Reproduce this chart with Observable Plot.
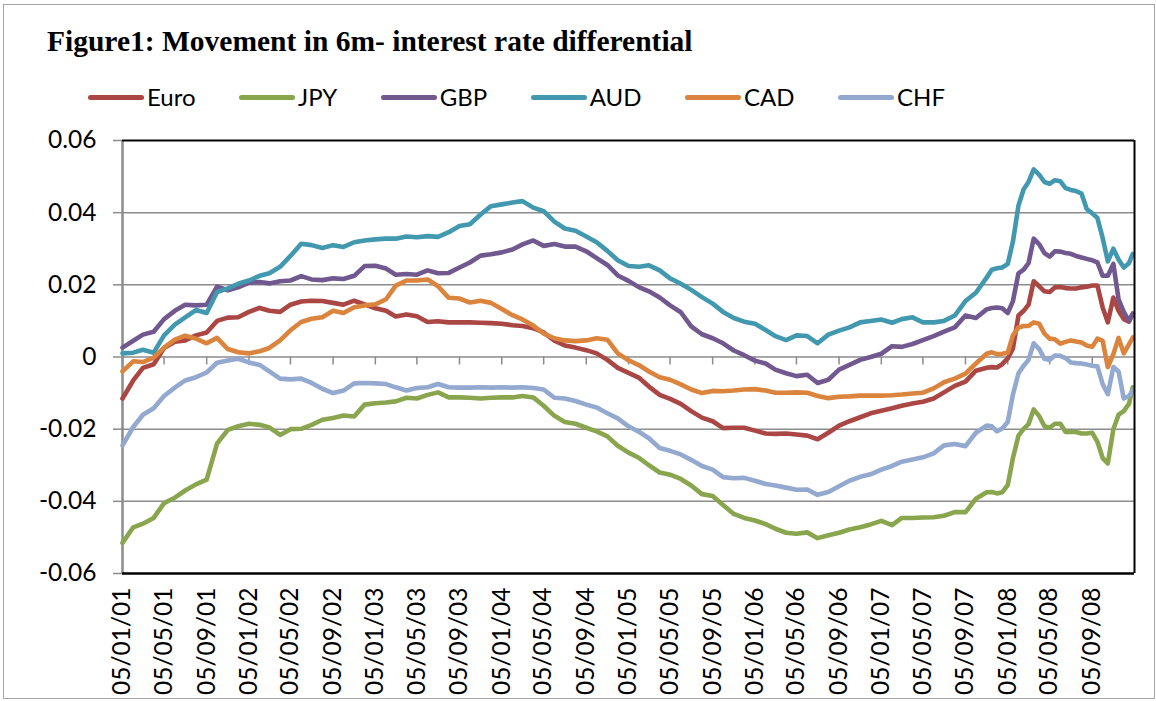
<!DOCTYPE html>
<html><head><meta charset="utf-8">
<script src="https://cdn.jsdelivr.net/npm/d3@7"></script>
<script src="https://cdn.jsdelivr.net/npm/@observablehq/plot@0.6"></script>
<style>
html,body{margin:0;padding:0;background:#fff;}
#wrap{position:relative;width:1156px;height:701px;overflow:hidden;background:#fff;}
#border{position:absolute;left:3px;top:4px;width:1152px;height:695px;box-sizing:border-box;border:1.5px solid #a6a6a6;}
#title{position:absolute;left:47px;top:27px;font-family:"Liberation Serif","Times New Roman",serif;font-weight:bold;font-size:29.5px;line-height:29.5px;white-space:nowrap;color:#000;}
#legend{position:absolute;left:88px;top:85px;display:flex;gap:43.5px;font-family:Lato,sans-serif;font-size:24px;line-height:24px;color:#000;}
.item{display:flex;align-items:center;}
.swatch{width:56px;height:5px;border-radius:3px;margin-right:3px;}
#chart{position:absolute;left:0;top:120px;}
</style>
</head><body>
<div id="wrap">
  <div id="border"></div>
  <div id="title"></div>
  <div id="legend"></div>
  <div id="chart"></div>
</div>
<script>
const titleText = "Figure1: Movement in 6m- interest rate differential";
const seriesNames = ["Euro", "JPY", "GBP", "AUD", "CAD", "CHF"];
const seriesColors = ["#AA4643", "#89A54E", "#71588F", "#4198AF", "#DB843D", "#93A9CF"];
const yTicks = [-0.06, -0.04, -0.02, 0, 0.02, 0.04, 0.06];
const yTickLabels = ["-0.06", "-0.04", "-0.02", "0", "0.02", "0.04", "0.06"];
const xTickLabels = ["05/01/01","05/05/01","05/09/01","05/01/02","05/05/02","05/09/02","05/01/03","05/05/03","05/09/03","05/01/04","05/05/04","05/09/04","05/01/05","05/05/05","05/09/05","05/01/06","05/05/06","05/09/06","05/01/07","05/05/07","05/09/07","05/01/08","05/05/08","05/09/08"];
const xDomain = ["2001-01-05", "2009-01-05"];

const dates = [
"2001-01-05","2001-02-05","2001-03-05","2001-04-05","2001-05-05","2001-06-05","2001-07-05","2001-08-05","2001-09-05","2001-10-05","2001-11-05","2001-12-05",
"2002-01-05","2002-02-05","2002-03-05","2002-04-05","2002-05-05","2002-06-05","2002-07-05","2002-08-05","2002-09-05","2002-10-05","2002-11-05","2002-12-05",
"2003-01-05","2003-02-05","2003-03-05","2003-04-05","2003-05-05","2003-06-05","2003-07-05","2003-08-05","2003-09-05","2003-10-05","2003-11-05","2003-12-05",
"2004-01-05","2004-02-05","2004-03-05","2004-04-05","2004-05-05","2004-06-05","2004-07-05","2004-08-05","2004-09-05","2004-10-05","2004-11-05","2004-12-05",
"2005-01-05","2005-02-05","2005-03-05","2005-04-05","2005-05-05","2005-06-05","2005-07-05","2005-08-05","2005-09-05","2005-10-05","2005-11-05","2005-12-05",
"2006-01-05","2006-02-05","2006-03-05","2006-04-05","2006-05-05","2006-06-05","2006-07-05","2006-08-05","2006-09-05","2006-10-05","2006-11-05","2006-12-05",
"2007-01-05","2007-02-05","2007-03-05","2007-04-05","2007-05-05","2007-06-05","2007-07-05","2007-08-05","2007-09-05","2007-10-05",
"2007-11-05","2007-11-20","2007-12-05","2007-12-20",
"2008-01-05","2008-01-20","2008-02-05","2008-02-20","2008-03-05","2008-03-20","2008-04-05","2008-04-20","2008-05-05","2008-05-20","2008-06-05","2008-06-20",
"2008-07-05","2008-07-20","2008-08-05","2008-08-20","2008-09-05","2008-09-20","2008-10-05","2008-10-20","2008-11-05","2008-11-20","2008-12-05","2008-12-20",
"2008-12-31"
];

const euro = [
-0.0115,-0.0065,-0.0030,-0.0020,0.0025,0.0042,0.0046,0.0060,0.0068,0.0100,0.0109,0.0110,
0.0125,0.0136,0.0128,0.0125,0.0145,0.0154,0.0156,0.0155,0.0150,0.0145,0.0156,0.0146,
0.0135,0.0128,0.0112,0.0118,0.0113,0.0097,0.0099,0.0096,0.0096,0.0096,0.0095,0.0094,
0.0092,0.0088,0.0086,0.0080,0.0068,0.0045,0.0032,0.0026,0.0019,0.0010,-0.0008,-0.0030,
-0.0044,-0.0058,-0.0082,-0.0105,-0.0116,-0.0130,-0.0150,-0.0168,-0.0178,-0.0197,-0.0196,-0.0196,
-0.0204,-0.0212,-0.0213,-0.0212,-0.0215,-0.0218,-0.0228,-0.0210,-0.0190,-0.0178,-0.0167,-0.0156,
-0.0149,-0.0142,-0.0135,-0.0129,-0.0124,-0.0115,-0.0098,-0.0080,-0.0068,-0.0038,
-0.0030,-0.0028,-0.0029,-0.0020,
-0.0004,0.0024,0.0115,0.0128,0.0145,0.0210,0.0196,0.0182,0.0180,0.0193,0.0194,0.0191,
0.0190,0.0190,0.0193,0.0195,0.0198,0.0198,0.0137,0.0096,0.0165,0.0128,0.0105,0.0098,
0.0120
];
const jpy = [
-0.0515,-0.0472,-0.0462,-0.0446,-0.0405,-0.0390,-0.0370,-0.0353,-0.0340,-0.0240,-0.0202,-0.0192,
-0.0185,-0.0188,-0.0195,-0.0216,-0.0200,-0.0199,-0.0188,-0.0174,-0.0169,-0.0162,-0.0165,-0.0132,
-0.0128,-0.0126,-0.0123,-0.0113,-0.0115,-0.0105,-0.0098,-0.0112,-0.0112,-0.0113,-0.0115,-0.0113,
-0.0112,-0.0112,-0.0108,-0.0112,-0.0135,-0.0163,-0.0180,-0.0185,-0.0196,-0.0206,-0.0220,-0.0246,
-0.0265,-0.0280,-0.0300,-0.0320,-0.0326,-0.0338,-0.0356,-0.0380,-0.0385,-0.0410,-0.0435,-0.0446,
-0.0453,-0.0463,-0.0476,-0.0487,-0.0490,-0.0486,-0.0502,-0.0494,-0.0487,-0.0478,-0.0472,-0.0464,
-0.0454,-0.0466,-0.0446,-0.0446,-0.0445,-0.0444,-0.0440,-0.0430,-0.0430,-0.0393,
-0.0375,-0.0374,-0.0378,-0.0375,
-0.0355,-0.0280,-0.0218,-0.0199,-0.0186,-0.0145,-0.0164,-0.0192,-0.0196,-0.0185,-0.0185,-0.0208,
-0.0208,-0.0208,-0.0212,-0.0212,-0.0210,-0.0235,-0.0280,-0.0295,-0.0200,-0.0160,-0.0150,-0.0130,
-0.0084
];
const gbp = [
0.0026,0.0045,0.0062,0.0070,0.0105,0.0128,0.0145,0.0143,0.0145,0.0195,0.0185,0.0193,
0.0206,0.0208,0.0204,0.0210,0.0212,0.0224,0.0215,0.0213,0.0218,0.0216,0.0225,0.0252,
0.0253,0.0245,0.0228,0.0230,0.0228,0.0240,0.0232,0.0233,0.0248,0.0262,0.0281,0.0285,
0.0290,0.0298,0.0312,0.0323,0.0308,0.0313,0.0306,0.0306,0.0293,0.0274,0.0255,0.0226,
0.0211,0.0193,0.0182,0.0165,0.0143,0.0124,0.0085,0.0063,0.0052,0.0038,0.0018,0.0005,
-0.0010,-0.0018,-0.0035,-0.0045,-0.0053,-0.0049,-0.0072,-0.0063,-0.0035,-0.0022,-0.0008,0.0000,
0.0009,0.0030,0.0028,0.0036,0.0047,0.0058,0.0070,0.0082,0.0115,0.0108,
0.0132,0.0136,0.0137,0.0135,
0.0122,0.0155,0.0232,0.0242,0.0260,0.0328,0.0312,0.0288,0.0278,0.0293,0.0292,0.0288,
0.0286,0.0280,0.0276,0.0272,0.0268,0.0262,0.0225,0.0225,0.0258,0.0160,0.0125,0.0100,
0.0120
];
const aud = [
0.0010,0.0012,0.0020,0.0012,0.0060,0.0090,0.0110,0.0130,0.0122,0.0180,0.0190,0.0203,
0.0212,0.0225,0.0232,0.0250,0.0280,0.0314,0.0310,0.0302,0.0310,0.0305,0.0318,0.0323,
0.0326,0.0328,0.0328,0.0334,0.0332,0.0335,0.0333,0.0346,0.0363,0.0368,0.0395,0.0418,
0.0423,0.0428,0.0432,0.0414,0.0404,0.0375,0.0356,0.0350,0.0334,0.0318,0.0294,0.0268,
0.0252,0.0250,0.0254,0.0240,0.0218,0.0203,0.0186,0.0166,0.0148,0.0125,0.0108,0.0098,
0.0092,0.0075,0.0058,0.0047,0.0060,0.0058,0.0038,0.0062,0.0073,0.0082,0.0096,0.0100,
0.0104,0.0095,0.0105,0.0110,0.0096,0.0096,0.0100,0.0115,0.0155,0.0178,
0.0220,0.0242,0.0246,0.0248,
0.0258,0.0320,0.0420,0.0465,0.0485,0.0520,0.0505,0.0485,0.0480,0.0490,0.0487,0.0468,
0.0463,0.0460,0.0453,0.0410,0.0398,0.0385,0.0330,0.0265,0.0300,0.0270,0.0248,0.0260,
0.0286
];
const cad = [
-0.0040,-0.0012,-0.0014,-0.0002,0.0026,0.0048,0.0059,0.0051,0.0038,0.0053,0.0022,0.0013,
0.0010,0.0016,0.0025,0.0046,0.0074,0.0097,0.0106,0.0110,0.0128,0.0122,0.0138,0.0143,
0.0146,0.0160,0.0198,0.0212,0.0212,0.0215,0.0196,0.0164,0.0162,0.0151,0.0156,0.0150,
0.0133,0.0116,0.0104,0.0087,0.0065,0.0052,0.0046,0.0044,0.0046,0.0052,0.0048,0.0010,
-0.0009,-0.0023,-0.0040,-0.0056,-0.0063,-0.0076,-0.0090,-0.0100,-0.0094,-0.0095,-0.0093,-0.0090,
-0.0089,-0.0093,-0.0099,-0.0099,-0.0098,-0.0099,-0.0108,-0.0114,-0.0110,-0.0109,-0.0107,-0.0107,
-0.0107,-0.0106,-0.0104,-0.0101,-0.0099,-0.0087,-0.0070,-0.0060,-0.0046,-0.0018,
0.0009,0.0013,0.0008,0.0009,
0.0012,0.0060,0.0082,0.0086,0.0086,0.0096,0.0092,0.0065,0.0051,0.0049,0.0037,0.0042,
0.0046,0.0043,0.0040,0.0032,0.0028,0.0051,0.0045,-0.0028,0.0008,0.0053,0.0010,0.0035,
0.0054
];
const chf = [
-0.0245,-0.0194,-0.0160,-0.0142,-0.0108,-0.0085,-0.0065,-0.0056,-0.0043,-0.0016,-0.0010,-0.0005,
-0.0015,-0.0022,-0.0040,-0.0060,-0.0062,-0.0060,-0.0072,-0.0088,-0.0100,-0.0093,-0.0073,-0.0072,
-0.0073,-0.0075,-0.0084,-0.0093,-0.0086,-0.0084,-0.0075,-0.0084,-0.0085,-0.0085,-0.0084,-0.0085,
-0.0084,-0.0085,-0.0084,-0.0086,-0.0090,-0.0113,-0.0115,-0.0122,-0.0132,-0.0140,-0.0156,-0.0170,
-0.0192,-0.0208,-0.0225,-0.0252,-0.0260,-0.0270,-0.0285,-0.0302,-0.0312,-0.0333,-0.0336,-0.0335,
-0.0343,-0.0352,-0.0356,-0.0362,-0.0368,-0.0367,-0.0382,-0.0374,-0.0358,-0.0343,-0.0332,-0.0325,
-0.0312,-0.0302,-0.0290,-0.0284,-0.0278,-0.0267,-0.0245,-0.0241,-0.0247,-0.0210,
-0.0190,-0.0192,-0.0206,-0.0198,
-0.0180,-0.0104,-0.0045,-0.0024,-0.0008,0.0038,0.0022,-0.0005,-0.0008,0.0004,0.0003,-0.0003,
-0.0015,-0.0017,-0.0018,-0.0021,-0.0024,-0.0026,-0.0075,-0.0103,-0.0028,-0.0040,-0.0115,-0.0108,
-0.0093
];

const seriesValues = [euro, jpy, gbp, aud, cad, chf];

// Title and legend
document.getElementById("title").textContent = titleText;
const legend = document.getElementById("legend");
seriesNames.forEach((name, i) => {
  const item = document.createElement("div");
  item.className = "item";
  const sw = document.createElement("div");
  sw.className = "swatch";
  sw.style.background = seriesColors[i];
  const tx = document.createElement("span");
  tx.textContent = name;
  item.appendChild(sw); item.appendChild(tx);
  legend.appendChild(item);
});

const parseTick = d3.utcParse("%d/%m/%y");
const xTicks = xTickLabels.map(parseTick);
const xLabelOf = new Map(xTicks.map((d, i) => [+d, xTickLabels[i]]));
const yLabelOf = new Map(yTicks.map((d, i) => [d, yTickLabels[i]]));
const xStart = new Date(xDomain[0]);
const xEnd = new Date(xDomain[1]);
const yMin = yTicks[0], yMax = yTicks[yTicks.length - 1];

const table = seriesNames.flatMap((name, s) =>
  dates.map((d, i) => ({date: new Date(d), value: seriesValues[s][i], series: name})));

const grid = "#8c8c8c";
const chart = Plot.plot({
  width: 1156, height: 581,
  marginLeft: 122, marginRight: 22, marginTop: 20, marginBottom: 128,
  style: {fontFamily: "Lato, sans-serif", fontSize: "24.5px", color: "#000", background: "transparent", overflow: "visible"},
  x: {type: "utc", domain: [xStart, xEnd], label: null},
  y: {domain: [yMin, yMax], label: null},
  color: {domain: seriesNames, range: seriesColors},
  marks: [
    Plot.ruleY(yTicks.filter(t => t > yMin && t < yMax), {stroke: grid, strokeWidth: 1.5}),
    Plot.ruleX(xTicks, {x: d => d, y1: () => 0, y2: () => 0, insetBottom: -8, stroke: grid, strokeWidth: 1.5}),
    Plot.ruleY(yTicks, {y: d => d, x1: () => xStart, x2: () => xStart, insetLeft: -9, stroke: grid, strokeWidth: 1.5}),
    Plot.ruleX([xStart], {stroke: grid, strokeWidth: 2.5}),
    Plot.lineY(table, {x: "date", y: "value", z: "series", stroke: "series", strokeWidth: 4.6, strokeLinejoin: "round", strokeLinecap: "round"}),
    Plot.ruleY([yMax], {stroke: "#000", strokeWidth: 2}),
    Plot.ruleY([yMin], {stroke: "#000", strokeWidth: 2.5}),
    Plot.ruleX([xEnd], {stroke: "#000", strokeWidth: 2}),
    Plot.axisY(yTicks, {tickFormat: d => yLabelOf.get(d), tickSize: 0, tickPadding: 26, fontSize: 24.5, label: null}),
    Plot.axisX(xTicks, {tickFormat: d => xLabelOf.get(+d), tickRotate: -90, tickSize: 0, tickPadding: 14, fontSize: 24.5, label: null})
  ]
});
document.getElementById("chart").appendChild(chart);
</script>
</body></html>
